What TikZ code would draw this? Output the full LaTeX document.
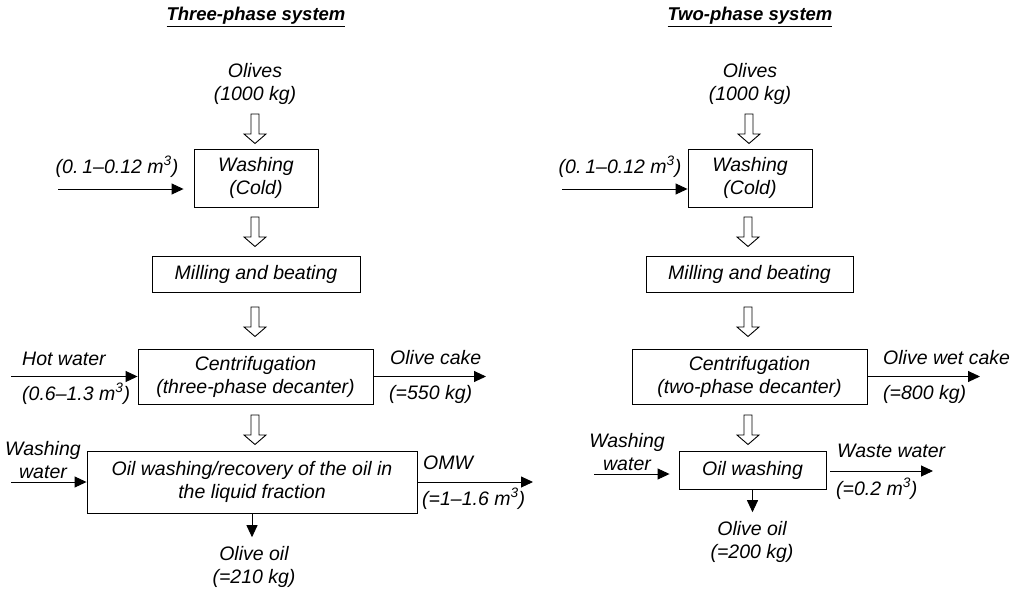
\documentclass[tikz,border=0pt]{standalone}
\usepackage{fontspec}
\setmainfont{Liberation Sans}
\usetikzlibrary{arrows.meta,calc}
\tikzset{
  txt/.style={font=\fontsize{19.5}{23}\selectfont\itshape},
  ttl/.style={font=\fontsize{18.5}{22}\selectfont\bfseries\itshape, inner sep=0, anchor=base},
  box/.style={draw, line width=0.9pt, inner sep=0, align=center, txt},
  lbl/.style={inner sep=0, align=center, txt},
  lblw/.style={inner sep=0, anchor=west, txt},
  flow/.style={-{Triangle[length=12pt,width=11pt]}, line width=0.9pt},
  hollow/.pic={\draw[line width=0.9pt, fill=white] (-4,0) -- (4,0) -- (4,20) -- (11,20) -- (0,29.5) -- (-11,20) -- (-4,20) -- cycle;}
}
\begin{document}
\begin{tikzpicture}[x=1pt,y=-1pt]
\useasboundingbox (0,0) rectangle (1014,591);

% ---------- Three-phase system ----------
\node[ttl] (t1) at (256,20.5) {\underline{Three-phase system}};
\node[lbl] (olives1) at (255,84) {Olives\\(1000 kg)};
\pic at (255,114) {hollow};
\node[box, minimum width=124pt, minimum height=58pt] (wash1) at (256,178) {Washing\\(Cold)};
\node[lbl] (in1lbl) at (117,167) {(0.\kern0.2em 1–0.12 m\textsuperscript{3})};
\coordinate (in1) at (58,189);
\draw[flow, shorten >=10pt] (in1) -- (in1 -| wash1.west);
\pic at (255,217) {hollow};
\node[box, minimum width=208pt, minimum height=36pt] (mill1) at (256,274) {Milling and beating};
\pic at (255,307) {hollow};
\node[box, minimum width=235pt, minimum height=55pt] (cent1) at (255.5,376.5) {Centrifugation\\(three-phase decanter)};
\node[lblw] (hot1) at (22,359) {Hot water};
\node[lblw] (hot1v) at (22,394) {(0.6–1.3 m\textsuperscript{3})};
\coordinate (hw1) at (11,376.5);
\draw[flow] (hw1) -- (cent1.west);
\coordinate (cake1) at (486,376.5);
\draw[flow] (cent1.east) -- (cake1);
\node[lblw] (cake1lbl) at (390,358) {Olive cake};
\node[lblw] (cake1v) at (389,394) {(=550 kg)};
\pic at (255,415) {hollow};
\node[box, minimum width=330pt, minimum height=62pt] (oil1) at (252,482) {Oil washing/recovery of the oil in\\the liquid fraction};
\node[lbl] (ww1) at (43,460) {Washing\\water};
\coordinate (wwin1) at (11,482);
\draw[flow] (wwin1) -- (oil1.west);
\coordinate (omw1) at (533,482);
\draw[flow] (oil1.east) -- (omw1);
\node[lblw] (omw1lbl) at (423,463) {OMW};
\node[lblw] (omw1v) at (422,499) {(=1–1.6 m\textsuperscript{3})};
\node[lbl] (oo1) at (254,567) {Olive oil\\(=210 kg)};
\draw[flow, shorten >=9pt] (oil1.south) -- (oil1.south |- oo1.north);

% ---------- Two-phase system ----------
\node[ttl] (t2) at (750,20.5) {\underline{Two-phase system}};
\node[lbl] (olives2) at (750,84) {Olives\\(1000 kg)};
\pic at (749,114) {hollow};
\node[box, minimum width=124pt, minimum height=58pt] (wash2) at (750,178) {Washing\\(Cold)};
\node[lbl] (in2lbl) at (620,167) {(0.\kern0.2em 1–0.12 m\textsuperscript{3})};
\coordinate (in2) at (562,189);
\draw[flow] (in2) -- (in2 -| wash2.west);
\pic at (748,217) {hollow};
\node[box, minimum width=207pt, minimum height=36pt] (mill2) at (749.5,274) {Milling and beating};
\pic at (748,307) {hollow};
\node[box, minimum width=235pt, minimum height=55pt] (cent2) at (749.5,376.5) {Centrifugation\\(two-phase decanter)};
\coordinate (cake2) at (980,376.5);
\draw[flow] (cent2.east) -- (cake2);
\node[lblw] (cake2lbl) at (883,358) {Olive wet cake};
\node[lblw] (cake2v) at (883,394) {(=800 kg)};
\pic at (748,415) {hollow};
\node[box, minimum width=147pt, minimum height=38pt] (oil2) at (752.5,470) {Oil washing};
\node[lbl] (ww2) at (627,452) {Washing\\water};
\coordinate (wwin2) at (594,474);
\draw[flow, shorten >=9pt] (wwin2) -- (wwin2 -| oil2.west);
\coordinate (waste2) at (933,471);
\draw[flow, shorten <=4pt] (oil2.east |- waste2) -- (waste2);
\node[lblw] (waste2lbl) at (837,451) {Waste water};
\node[lblw] (waste2v) at (836,489) {(=0.2 m\textsuperscript{3})};
\node[lbl] (oo2) at (752,542) {Olive oil\\(=200 kg)};
\draw[flow, shorten >=9pt] (oil2.south) -- (oil2.south |- oo2.north);
\end{tikzpicture}
\end{document}
